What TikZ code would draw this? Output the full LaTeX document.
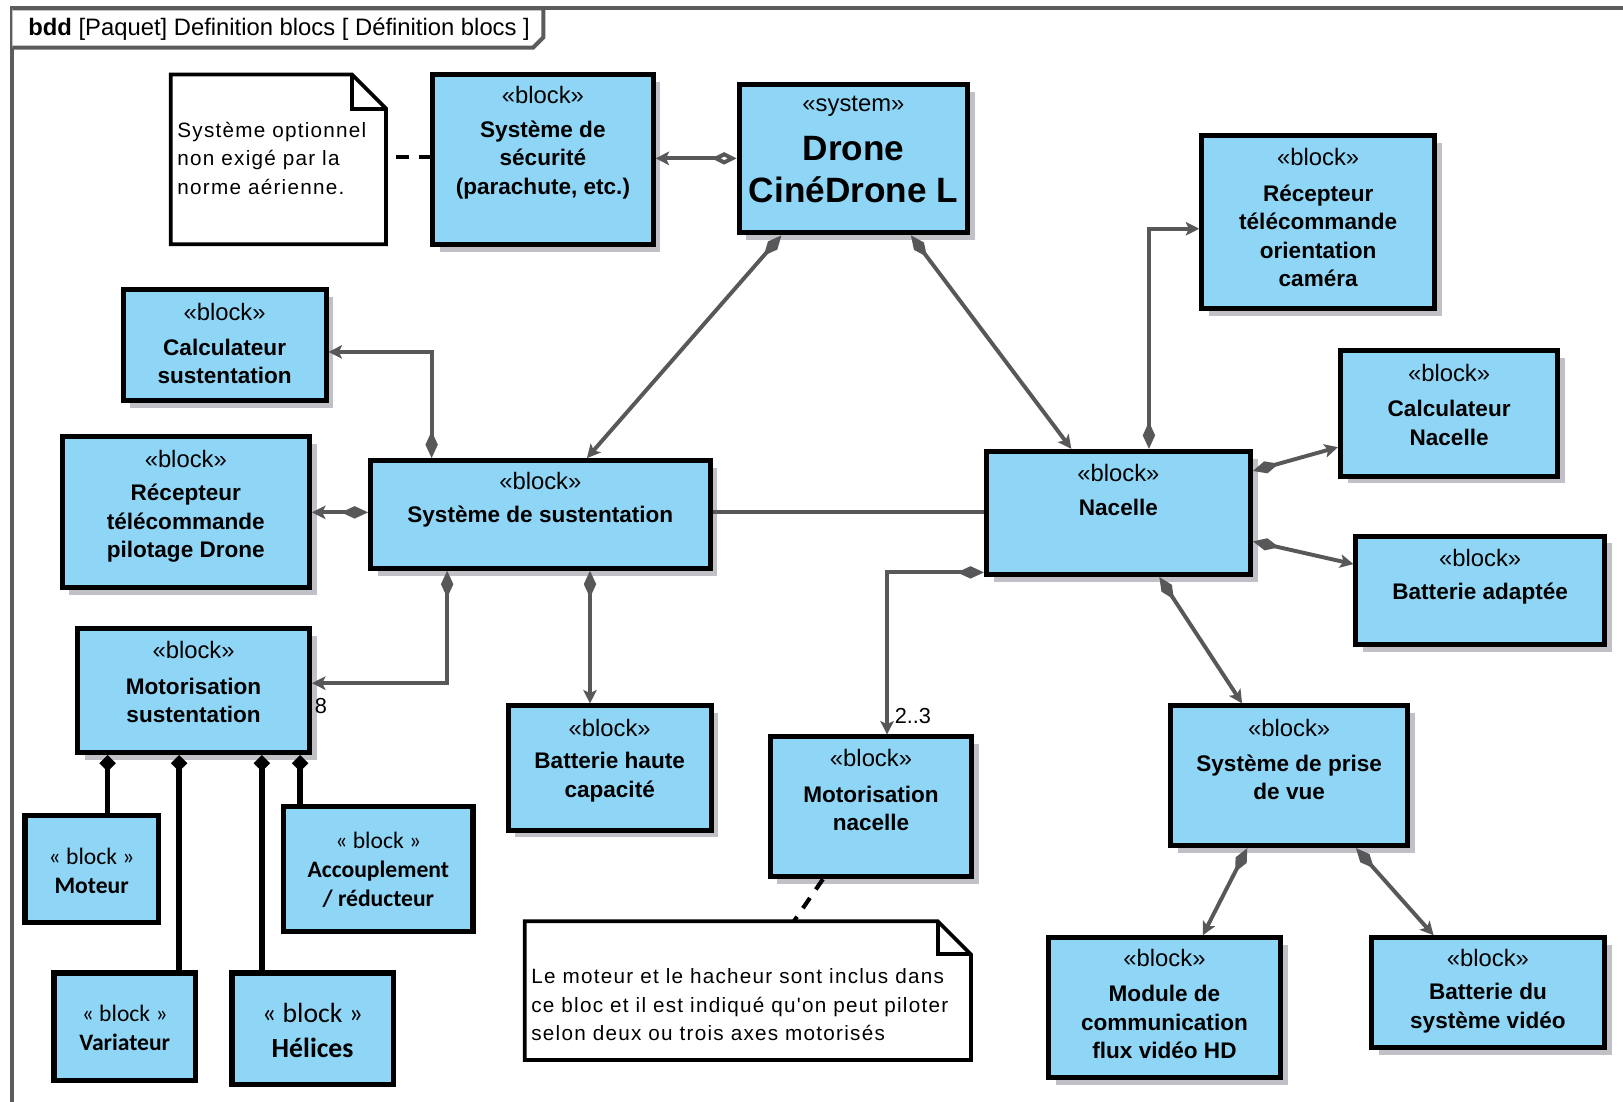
\documentclass[tikz,border=0pt]{standalone}
\usepackage{fontspec}
\setmainfont{Liberation Sans}
\newfontfamily\calibri{Carlito}
\newfontfamily\notefont[LetterSpace=6]{Liberation Sans}
\usetikzlibrary{arrows.meta,shadows,fit,calc}

\definecolor{blockfill}{RGB}{143,214,246}
\definecolor{linkgray}{RGB}{88,88,90}
\definecolor{shadowgray}{RGB}{192,192,198}
\definecolor{framegray}{RGB}{92,92,94}

\tikzset{
  x=0.5pt, y=-0.5pt,
  blockbox/.style={draw=black, line width=2.4pt, fill=blockfill, inner sep=0pt,
    drop shadow={shadow xshift=3.5pt, shadow yshift=-3.5pt, opacity=1, fill=shadowgray}},
  partbox/.style={draw=black, line width=2.6pt, fill=blockfill, inner sep=0pt},
  notebox/.style={draw=none, inner sep=0pt, outer sep=0pt},
  noteline/.style={draw=black, line width=1.8pt, fill=white, line join=miter},
  stereo/.style={font=\fontsize{11.5}{13}\selectfont, inner sep=0pt},
  blkname/.style={font=\bfseries\fontsize{10.9}{13.75}\selectfont, align=center, inner sep=0pt},
  partstereo/.style={font=\calibri\fontsize{11.4}{14}\selectfont, align=center, inner sep=0pt},
  notetext/.style={font=\notefont\fontsize{10}{13.75}\selectfont, align=left, inner sep=0pt, anchor=west},
  mult/.style={font=\fontsize{10.5}{12}\selectfont, inner sep=0pt},
  link/.style={draw=linkgray, line width=1.9pt},
  comp/.style={link, {Diamond[length=13pt,width=6pt]}-{Stealth[length=6.5pt,width=6.5pt,inset=1.5pt]}},
  aggr/.style={link, {Diamond[length=12pt,width=6pt,fill=white]}-{Stealth[length=6.5pt,width=6.5pt,inset=1.5pt]}},
  partlink/.style={draw=black, line width=2.6pt, {Diamond[length=8pt,width=8pt]}-},
  notelink/.style={draw=black, line width=2pt, dash pattern=on 6pt off 5pt, dash phase=6pt},
}

\begin{document}
\begin{tikzpicture}
\useasboundingbox (0,0) rectangle (1568,1064);
\fill[white] (0,0) rectangle (1568,1064);

% diagram frame and its name tab
\draw[framegray, line width=2pt] (12,1080) -- (12,8) -- (1590,8);
\draw[framegray, line width=2pt, fill=white, line join=miter]
  (12,8) -- (525,8) -- (525,36) -- (515,46) -- (12,46);
\node[font=\fontsize{11.5}{13}\selectfont, anchor=west, inner sep=0pt] (frametitle) at (27,28)
  {\textbf{bdd} [Paquet] Definition blocs [ Définition blocs ]};

% ---- notes ----
\node[notebox, fit={(165,72) (373,236)}] (n1) {};
\draw[noteline] (n1.north west) -- ($(n1.north east)+(-33,0)$) -- ($(n1.north east)+(0,33)$)
  -- (n1.south east) -- (n1.south west) -- cycle;
\draw[noteline, fill=none] ($(n1.north east)+(-33,0)$) -- ($(n1.north east)+(-33,33)$) -- ($(n1.north east)+(0,33)$);
\node[notetext] (n1-t) at (171,152.7) {Système optionnel\\non exigé par la\\norme aérienne.};

\node[notebox, fit={(507,890) (938,1024)}] (n2) {};
\draw[noteline] (n2.north west) -- ($(n2.north east)+(-32,0)$) -- ($(n2.north east)+(0,32)$)
  -- (n2.south east) -- (n2.south west) -- cycle;
\draw[noteline, fill=none] ($(n2.north east)+(-32,0)$) -- ($(n2.north east)+(-32,32)$) -- ($(n2.north east)+(0,32)$);
\node[notetext] (n2-t) at (513,970.7) {Le moteur et le hacheur sont inclus dans\\ce bloc et il est indiqué qu'on peut piloter\\selon deux ou trois axes motorisés};

% ---- blocks ----
\node[blockbox, fit={(418,72) (631,236)}] (sec) {};
\node[stereo] (sec-s) at (524.5,92) {«block»};
\node[blkname] (sec-t) at (524.5,154.5) {Système de\\sécurité\\(parachute, etc.)};

\node[blockbox, fit={(714,82) (935,225)}] (dr) {};
\node[stereo] (dr-s) at (824.5,103) {«system»};
\node[blkname, font=\bfseries\fontsize{17}{20}\selectfont] (dr-t) at (824.5,164) {Drone\\CinéDrone L};

\node[blockbox, fit={(1161,131) (1386,298)}] (ro) {};
\node[stereo] (ro-s) at (1273.5,152) {«block»};
\node[blkname] (ro-t) at (1273.5,228) {Récepteur\\télécommande\\orientation\\caméra};

\node[blockbox, fit={(119,280) (315,387)}] (cs) {};
\node[stereo] (cs-s) at (217,301) {«block»};
\node[blkname] (cs-t) at (217,349) {Calculateur\\sustentation};

\node[blockbox, fit={(1295,339) (1505,460)}] (cn) {};
\node[stereo] (cn-s) at (1400,360) {«block»};
\node[blkname] (cn-t) at (1400,408.5) {Calculateur\\Nacelle};

\node[blockbox, fit={(60,422) (299,568)}] (rp) {};
\node[stereo] (rp-s) at (179.5,443) {«block»};
\node[blkname] (rp-t) at (179.5,505.5) {Récepteur\\télécommande\\pilotage Drone};

\node[blockbox, fit={(358,445) (686,549)}] (ss) {};
\node[stereo] (ss-s) at (522,465) {«block»};
\node[blkname] (ss-t) at (522,499) {Système de sustentation};

\node[blockbox, fit={(953,436) (1208,555)}] (na) {};
\node[stereo] (na-s) at (1080.5,457) {«block»};
\node[blkname] (na-t) at (1080.5,490) {Nacelle};

\node[blockbox, fit={(1310,518) (1550,623)}] (ba) {};
\node[stereo] (ba-s) at (1430,539) {«block»};
\node[blkname] (ba-t) at (1430,573) {Batterie adaptée};

\node[blockbox, fit={(75,607) (299,727)}] (ms) {};
\node[stereo] (ms-s) at (187,628) {«block»};
\node[blkname] (ms-t) at (187,676.5) {Motorisation\\sustentation};

\node[blockbox, fit={(491,682) (687,802)}] (bh) {};
\node[stereo] (bh-s) at (589,703) {«block»};
\node[blkname] (bh-t) at (589,751) {Batterie haute\\capacité};

\node[blockbox, fit={(744,712) (939,847)}] (mn) {};
\node[stereo] (mn-s) at (841.5,732) {«block»};
\node[blkname] (mn-t) at (841.5,781) {Motorisation\\nacelle};

\node[blockbox, fit={(1131,682) (1360,817)}] (pv) {};
\node[stereo] (pv-s) at (1245.5,703) {«block»};
\node[blkname] (pv-t) at (1245.5,751) {Système de prise\\de vue};

\node[blockbox, fit={(1013,906) (1237,1041)}] (mc) {};
\node[stereo] (mc-s) at (1125,926) {«block»};
\node[blkname] (mc-t) at (1125,987.5) {Module de\\communication\\flux vidéo HD};

\node[blockbox, fit={(1325,906) (1550,1012)}] (bv) {};
\node[stereo] (bv-s) at (1437.5,926) {«block»};
\node[blkname] (bv-t) at (1437.5,974) {Batterie du\\système vidéo};

% parts of the lift motorisation
\node[partbox, fit={(24,788) (153,891)}] (mo) {};
\node[partstereo] (mo-t) at (88.5,841) {« block »\\\textbf{Moteur}};

\node[partbox, fit={(274,779) (457,900)}] (ac) {};
\node[partstereo] (ac-t) at (365.5,840.5) {« block »\\\textbf{Accouplement}\\\textbf{/ réducteur}};

\node[partbox, fit={(52,940) (189,1044)}] (va) {};
\node[partstereo] (va-t) at (120.5,993.5) {« block »\\\textbf{Variateur}};

\node[partbox, fit={(224,940) (380,1048)}] (he) {};
\node[partstereo, font=\calibri\fontsize{13.4}{16.5}\selectfont] (he-t) at (302,995.5) {« block »\\\textbf{Hélices}};

% ---- connectors ----
\draw[aggr] (dr.west |- 0,153) -- (sec.east |- 0,153);
\draw[comp] (dr.south -| 755,0) -- (ss.north -| 567,0);
\draw[comp] (dr.south -| 880,0) -- (na.north -| 1035,0);
\draw[comp] (ss.north -| 417,0) |- (cs.east |- 0,340);
\draw[comp] (ss.west |- 0,495) -- (rp.east |- 0,495);
\draw[comp] (ss.south -| 432,0) |- (ms.east |- 0,660);
\draw[comp] (ss.south -| 570,0) -- (bh.north -| 570,0);
\draw[link] (ss.east |- 0,495) -- (na.west |- 0,495);
\draw[comp] (na.north -| 1110,0) |- (ro.west |- 0,221);
\draw[comp] (na.east |- 0,455) -- (cn.west |- 0,432);
\draw[comp] (na.east |- 0,523) -- (ba.west |- 0,545);
\draw[comp] (na.west |- 0,553) -| (mn.north -| 857,0);
\draw[comp] (na.south -| 1120,0) -- (pv.north -| 1200,0);
\draw[comp] (pv.south -| 1205,0) -- (mc.north -| 1162,0);
\draw[comp] (pv.south -| 1310,0) -- (bv.north -| 1385,0);

\draw[partlink] (ms.south -| 104,0) -- (mo.north -| 104,0);
\draw[partlink] (ms.south -| 173,0) -- (va.north -| 173,0);
\draw[partlink] (ms.south -| 253,0) -- (he.north -| 253,0);
\draw[partlink] (ms.south -| 290,0) -- (ac.north -| 290,0);

\draw[notelink] (n1.east |- 0,152) -- (sec.west |- 0,152);
\draw[notelink, dash phase=0pt] (mn.south -| 795,0) -- (n2.north -| 767,0);

% multiplicities
\node[mult] (m8) at (310,682) {8};
\node[mult] (m23) at (882,692) {2..3};
\end{tikzpicture}
\end{document}
